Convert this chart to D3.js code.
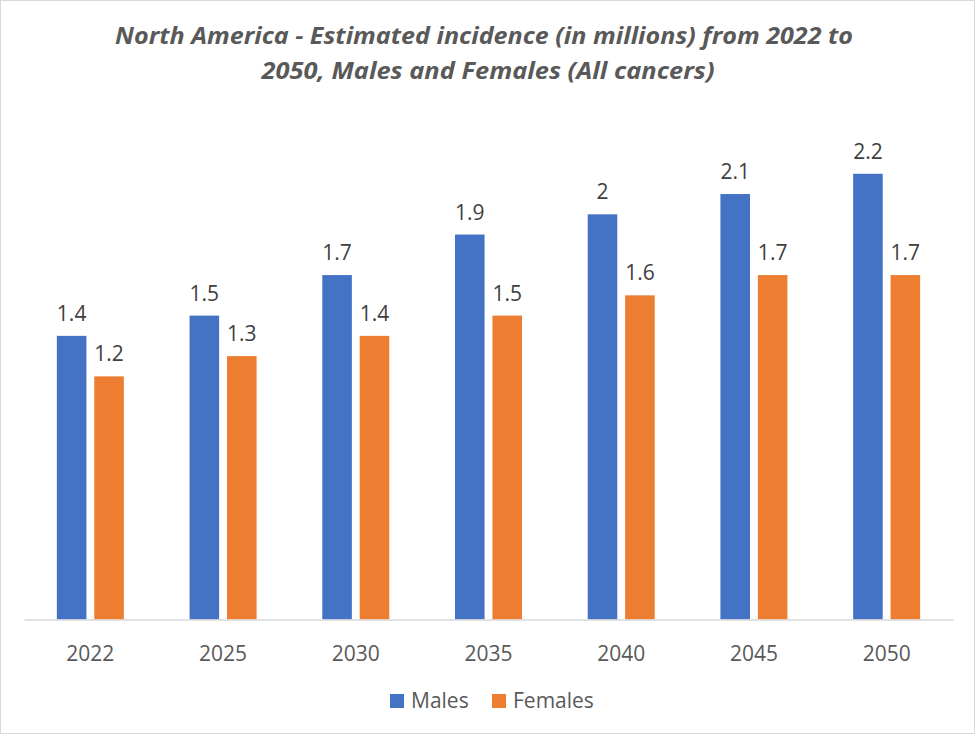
<!DOCTYPE html>
<html>
<head>
<meta charset="utf-8">
<script src="https://cdn.jsdelivr.net/npm/d3@7"></script>
<style>
body { margin: 0; background: #fff; }
</style>
</head>
<body>
<div id="svg"></div>
<script>
let years = ['2022', '2025', '2030', '2035', '2040', '2045', '2050']
let series = ['Males', 'Females']
let males = [1.4, 1.5, 1.7, 1.9, 2, 2.1, 2.2]
let females = [1.2, 1.3, 1.4, 1.5, 1.6, 1.7, 1.7]
let colors = ['#4472C4', '#ED7D31']
let titleLines = ['North America - Estimated incidence (in millions) from 2022 to', '2050, Males and Females (All cancers)']

let width = 977, height = 736
let plot = {left: 24, right: 953, top: 113, bottom: 619.5}

let svg = d3.select('#svg')
.append('svg')
.attr('width', width)
.attr('height', height)
.style('font-family', '"Open Sans", sans-serif')

// chart border
svg.append('rect')
.attr('x', 0.5).attr('y', 0.5)
.attr('width', 974).attr('height', 733)
.style('fill', '#fff')
.style('stroke', '#d9d9d9')
.style('stroke-width', 1)

// title
let titleLen = [738, 453]
svg.selectAll('.title')
.data(titleLines)
.join('text')
.attr('class', 'title')
.text(d => d)
.attr('x', (d, i) => i == 0 ? 484 : 488)
.attr('y', (d, i) => 44 + i * 34.5)
.attr('textLength', (d, i) => titleLen[i])
.attr('lengthAdjust', 'spacingAndGlyphs')
.style('text-anchor', 'middle')
.style('font-size', 23)
.style('font-weight', 'bold')
.style('font-style', 'italic')
.style('fill', '#595959')

let x0 = d3.scaleBand()
.domain(years)
.range([plot.left, plot.right])
.paddingInner(0.495)
.paddingOuter(0.2475)

let x1 = d3.scaleBand()
.domain(series)
.range([0, x0.bandwidth()])
.paddingInner(0.21)

let yScale = d3.scaleLinear()
.domain([0, 2.5])
.range([plot.bottom, plot.top])

let data = years.map((y, i) => ({year: y, values: [
	{key: 'Males', value: males[i], color: colors[0]},
	{key: 'Females', value: females[i], color: colors[1]}
]}))

let groups = svg.selectAll('.group')
.data(data)
.join('g')
.attr('class', 'group')
.attr('transform', d => `translate(${x0(d.year)}, 0)`)

groups.selectAll('rect')
.data(d => d.values)
.join('rect')
.attr('x', d => x1(d.key))
.attr('y', d => yScale(d.value))
.attr('width', x1.bandwidth())
.attr('height', d => yScale(0) - yScale(d.value))
.style('fill', d => d.color)

groups.selectAll('.label')
.data(d => d.values)
.join('text')
.attr('class', 'label')
.text(d => d.value)
.attr('x', d => x1(d.key) + x1.bandwidth() / 2)
.attr('y', d => yScale(d.value) - 15)
.style('text-anchor', 'middle')
.style('font-size', 21)
.style('fill', '#404040')

// x axis
let xAxis = svg.append('g')
.attr('transform', `translate(0, ${plot.bottom})`)
.call(d3.axisBottom(d3.scaleBand().domain(years).range([plot.left, plot.right])).tickSize(0).tickPadding(0))

xAxis.select('.domain')
.attr('stroke', '#d9d9d9')
.attr('stroke-width', 1.5)

xAxis.selectAll('text')
.attr('dy', null)
.attr('y', 41)
.style('font-family', '"Open Sans", sans-serif')
.style('font-size', 21)
.style('fill', '#595959')

// legend
let legend = svg.selectAll('.legend')
.data(series)
.join('g')
.attr('class', 'legend')
.attr('transform', (d, i) => `translate(${i == 0 ? 390 : 492}, 694)`)

legend.append('rect')
.attr('width', 14)
.attr('height', 14)
.style('fill', (d, i) => colors[i])

legend.append('text')
.text(d => d)
.attr('x', 21)
.attr('y', 14)
.style('font-size', 21)
.style('fill', '#595959')
</script>
</body>
</html>
